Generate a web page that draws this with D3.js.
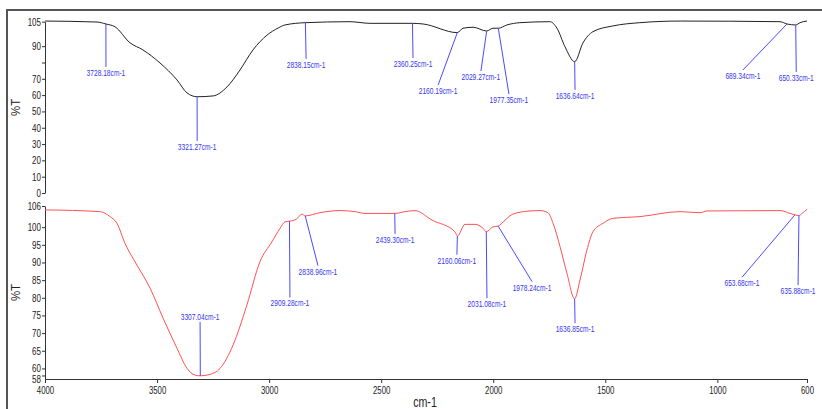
<!DOCTYPE html>
<html>
<head>
<meta charset="utf-8">
<script src="https://cdn.jsdelivr.net/npm/d3@7"></script>
<style>
    body { margin: 0; background: #fff; }
    svg { display: block; font-family: "Liberation Sans", Arial, sans-serif; }
    .axis text { fill: #222; font-size: 10.5px; }
    .axis path, .axis line { stroke: #333; }
</style>
</head>
<body>
<div id="chart"></div>
<script>
// Shared x axis (wavenumber, cm-1)
const xTicks = [4000, 3500, 3000, 2500, 2000, 1500, 1000, 600];

// Top spectrum (black)
const topWn = [4000, 3768, 3728.18, 3688, 3621, 3563, 3487, 3411, 3366, 3321.27, 3250, 3188, 3130, 3072, 3009, 2960, 2929,
    2838.15, 2639, 2550, 2360.25, 2313, 2160.19, 2135, 2090, 2029.27, 2001, 1977.35, 1939, 1881, 1747, 1716, 1680,
    1636.64, 1600, 1555, 1466, 1346, 1166, 720, 689.34, 650.33, 631, 600];
const topT = [105.4, 104.8, 103.6, 101.9, 92.1, 87.7, 79.7, 69.3, 61.3, 59.0, 59.5, 65.0, 75.4, 87.7, 96.8, 101.1, 103.0,
    104.4, 105.0, 104.0, 104.0, 103.6, 98.3, 101.0, 101.6, 99.3, 101.0, 101.0, 103.0, 104.4, 105.0, 101.1, 89.7,
    80.5, 91.9, 98.9, 102.4, 104.4, 105.4, 105.0, 103.6, 103.0, 104.4, 105.4];
const topYTicks = [0, 10, 20, 30, 40, 50, 60, 70, 80, 90, 105];
const topYTickLabels = ["0", "10", "20", "30", "40", "50", "60", "70", "", "90", "105"];

// Top peak annotations: peak position, and where its label sits
const topPeakWn = [3728.18, 3321.27, 2838.15, 2360.25, 2160.19, 2029.27, 1977.35, 1636.64, 689.34, 650.33];
const topPeakT = [103.6, 59.0, 104.4, 104.0, 98.3, 99.3, 101.0, 80.5, 103.6, 103.0];
const topLabelWn = [3728, 3321, 2835, 2358, 2246, 2055, 1930, 1635, 886, 648];
const topLabelT = [73.6, 28.2, 78.5, 79.1, 62.5, 71.1, 57.0, 59.5, 71.7, 70.5];

// Bottom spectrum (red)
const botWn = [4000, 3755, 3710, 3679, 3643, 3590, 3531, 3473, 3411, 3366, 3331, 3307.04, 3264, 3219, 3161, 3099, 3041,
    2987, 2951, 2929, 2909.28, 2880, 2853, 2838.96, 2773, 2684, 2617, 2572, 2439.30, 2394, 2349, 2273, 2171, 2160.06,
    2126, 2081, 2046, 2031.08, 2001, 1978.24, 1947, 1912, 1836, 1791, 1756, 1733, 1702, 1671, 1636.85, 1613, 1582,
    1555, 1510, 1466, 1345, 1167, 1077, 1046, 720, 676, 653.68, 635.88, 622, 600];
const botT = [104.9, 104.4, 103.0, 101.1, 95.4, 89.3, 82.7, 74.2, 65.7, 60.0, 58.1, 57.9, 58.3, 60.0, 66.6, 78.0, 90.2,
    95.9, 99.7, 101.5, 101.7, 102.2, 103.7, 103.2, 104.1, 104.7, 104.4, 103.9, 103.9, 104.4, 104.7, 102.0, 98.7, 97.5,
    100.8, 100.8, 99.7, 98.7, 100.1, 100.3, 102.0, 103.7, 104.6, 104.7, 104.1, 101.1, 94.5, 86.9, 79.7, 85.0, 93.5,
    98.7, 101.1, 102.5, 103.0, 104.4, 104.1, 104.6, 104.7, 103.9, 103.5, 103.3, 103.9, 105.1];
const botYTicks = [58, 60, 65, 70, 75, 80, 85, 90, 95, 100, 106];

const botPeakWn = [3307.04, 2909.28, 2838.96, 2439.30, 2160.06, 2031.08, 1978.24, 1636.85, 653.68, 635.88];
const botPeakT = [57.9, 101.7, 103.2, 103.9, 97.5, 98.7, 100.3, 79.7, 103.5, 103.3];
const botLabelWn = [3308, 2907, 2782, 2438, 2162, 2028, 1827, 1635, 890, 640];
const botLabelT = [74.6, 78.4, 87.4, 96.4, 90.5, 78.2, 82.9, 71.1, 84.1, 81.9];

const colors = {
    top: "#222",
    bottom: "#ff5050",
    peak: "#4a4aff",
    peakText: "#3636f0",
    frame: "#555"
};

const width = 822;
const height = 409;

const svg = d3.select("#chart").append("svg")
    .attr("width", width)
    .attr("height", height);

const x = d3.scaleLinear().domain([4000, 600]).range([45, 807]);
const yTop = d3.scaleLinear().domain([0, 105]).range([193, 21.7]);
const yBot = d3.scaleLinear().domain([57, 106]).range([379, 206]);

drawFrame();
drawPanel(yTop, topWn, topT, colors.top, topYTicks, (d, i) => topYTickLabels[i]);
drawPeaks(yTop, topPeakWn, topPeakT, topLabelWn, topLabelT);
drawPanel(yBot, botWn, botT, colors.bottom, botYTicks, d => d);
drawPeaks(yBot, botPeakWn, botPeakT, botLabelWn, botLabelT);
drawXAxis();

// no narrow font installed, so squeeze glyphs horizontally
function squeeze(sel, k) {
    sel.each(function () {
        const w = this.getComputedTextLength();
        if (w > 0) d3.select(this).attr("textLength", w * k).attr("lengthAdjust", "spacingAndGlyphs");
    });
}

// outer border (only top and left show in the original)
function drawFrame() {
    svg.append("path")
        .attr("d", `M7,${height} V10 H${width}`)
        .attr("fill", "none")
        .attr("stroke", colors.frame)
        .attr("stroke-width", 2);
}

function drawPanel(y, wn, t, color, ticks, fmt) {
    const axis = svg.append("g")
        .attr("class", "axis")
        .attr("transform", `translate(${x(4000)},0)`)
        .call(d3.axisLeft(y).tickValues(ticks).tickSize(3).tickSizeOuter(0).tickPadding(1).tickFormat(fmt));
    squeeze(axis.selectAll("text"), 0.76);

    // the lowest label sits lower, on the x axis line, in the original
    axis.selectAll(".tick text").filter(d => d === 58).attr("dy", "0.65em");

    const line = d3.line()
        .x(d => x(d[0]))
        .y(d => y(d[1]))
        .curve(d3.curveMonotoneX);

    svg.append("path")
        .datum(d3.zip(wn, t))
        .attr("fill", "none")
        .attr("stroke", color)
        .attr("stroke-width", 1)
        .attr("d", line);

    // %T label
    const mid = (y.range()[0] + y.range()[1]) / 2;
    svg.append("text")
        .attr("transform", `translate(20,${mid}) rotate(-90)`)
        .attr("text-anchor", "middle")
        .style("font-size", "13px")
        .style("fill", "#222")
        .text("%T")
        .call(squeeze, 0.88);
}

function drawPeaks(y, peakWn, peakT, labelWn, labelT) {
    const g = svg.append("g");
    peakWn.forEach((wn, i) => {
        const px = x(wn), py = y(peakT[i]);
        const lx = x(labelWn[i]), ly = y(labelT[i]);
        const ey = ly > py ? ly - 6 : ly + 5; // stop at label edge
        g.append("line")
            .attr("x1", px).attr("y1", py)
            .attr("x2", lx).attr("y2", ey)
            .attr("stroke", colors.peak)
            .attr("stroke-width", 1);
        g.append("text")
            .attr("x", lx)
            .attr("y", ly)
            .attr("text-anchor", "middle")
            .attr("dominant-baseline", "central")
            .style("font-size", "8.5px")
            .style("fill", colors.peakText)
            .text(`${wn.toFixed(2)}cm-1`)
            .call(squeeze, 0.78);
    });
}

function drawXAxis() {
    const axis = svg.append("g")
        .attr("class", "axis")
        .attr("transform", `translate(0,${yBot(57)})`)
        .call(d3.axisBottom(x).tickValues(xTicks).tickSize(4).tickSizeOuter(0).tickPadding(3.5).tickFormat(d => d));
    squeeze(axis.selectAll("text"), 0.74);

    svg.append("text")
        .attr("x", 425)
        .attr("y", 407)
        .attr("text-anchor", "middle")
        .style("font-size", "14px")
        .style("fill", "#222")
        .text("cm-1")
        .call(squeeze, 0.76);
}
</script>
</body>
</html>
